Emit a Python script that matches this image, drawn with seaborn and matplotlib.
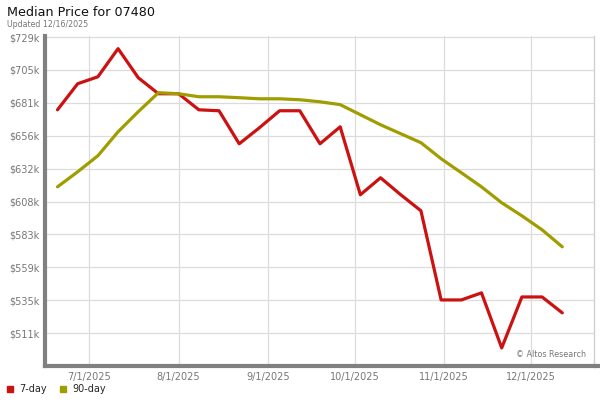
import numpy as np
import pandas as pd
import matplotlib
matplotlib.use("Agg")
import matplotlib.pyplot as plt
import matplotlib.dates as mdates
from matplotlib.lines import Line2D
import seaborn as sns

# weekly readings, Fridays from 6/20/2025 to 12/12/2025
dates = pd.date_range("2025-06-20", "2025-12-12", freq="7D")

price_7day = [675.2, 694.4, 699.5, 720.2, 698.8, 687.0, 687.0, 675.2, 674.5, 650.2,
              662.0, 674.5, 674.5, 650.2, 662.7, 612.7, 625.2, 612.7, 600.9, 535.3,
              535.3, 540.5, 500.0, 537.5, 537.5, 525.8]
price_90day = [618.5, 629.6, 641.4, 659.0, 673.8, 687.8, 687.0, 684.8, 684.8, 684.1,
               683.3, 683.3, 682.6, 681.1, 679.0, 671.6, 664.2, 657.6, 651.0, 639.2,
               628.9, 618.5, 606.8, 597.2, 586.9, 574.4]

series_names = ["7-day", "90-day"]
series_colors = ["#cc1111", "#a09d00"]

ytick_vals = [510.9, 535.1, 559.3, 583.5, 607.7, 631.9, 656.1, 680.3, 704.5, 728.7]
ytick_labels = ["$511k", "$535k", "$559k", "$583k", "$608k", "$632k",
                "$656k", "$681k", "$705k", "$729k"]
xtick_dates = pd.to_datetime(["2025-07-01", "2025-08-01", "2025-09-01",
                              "2025-10-01", "2025-11-01", "2025-12-01"])

df = pd.concat([
    pd.DataFrame({"date": dates, "price": price_7day, "series": "7-day"}),
    pd.DataFrame({"date": dates, "price": price_90day, "series": "90-day"}),
])

sns.set_style("white")
plt.rcParams["font.family"] = ["DejaVu Sans"]

fig = plt.figure(figsize=(6, 4), dpi=100)
ax = fig.add_axes([0.075, 0.085, 0.915, 0.825])

sns.lineplot(data=df, x="date", y="price", hue="series", hue_order=series_names,
             palette=series_colors, linewidth=2.3, legend=False, ax=ax)

ax.set_ylim(486.7, 729.5)
ax.set_xlim(pd.Timestamp("2025-06-15 16:00"), pd.Timestamp("2025-12-23"))
ax.set_yticks(ytick_vals)
ax.set_yticklabels(ytick_labels)
ax.set_xticks(xtick_dates)
ax.xaxis.set_major_formatter(mdates.DateFormatter("%-m/%-d/%Y"))
ax.set_xlabel("")
ax.set_ylabel("")

ax.grid(True, color="#dcdcdc", linewidth=0.9)
ax.set_axisbelow(True)
ax.tick_params(axis="both", length=0, labelsize=7, labelcolor="#777777", pad=4)

ax.spines["top"].set_visible(False)
ax.spines["right"].set_color("#d0d0d0")
ax.spines["right"].set_linewidth(1)
ax.spines["left"].set_color("#808080")
ax.spines["left"].set_linewidth(3)
ax.spines["bottom"].set_color("#808080")
ax.spines["bottom"].set_linewidth(3)

# bottom bar carries on to the right edge of the figure
fig.add_artist(Line2D([0.99, 1.0], [0.085, 0.085], color="#808080", linewidth=3,
                      transform=fig.transFigure))

fig.text(0.012, 0.968, "Median Price for 07480", fontsize=9.2, color="#111111",
         va="center", ha="left")
fig.text(0.012, 0.938, "Updated 12/16/2025", fontsize=5.7, color="#777777",
         va="center", ha="left")
ax.text(0.985, 0.035, "\u00a9 Altos Research", transform=ax.transAxes, fontsize=5.8,
        color="#777777", ha="right", va="center")

handles = [Line2D([0], [0], marker="s", color="none", markerfacecolor=c,
                  markeredgecolor=c, markersize=5) for c in series_colors]
fig.legend(handles, series_names, loc="lower left", bbox_to_anchor=(0.0, 0.0),
           ncol=2, frameon=False, fontsize=7, handlelength=0.8, handletextpad=0.6,
           columnspacing=1.2, borderaxespad=0.2)

fig.savefig("out.png", dpi=100)
